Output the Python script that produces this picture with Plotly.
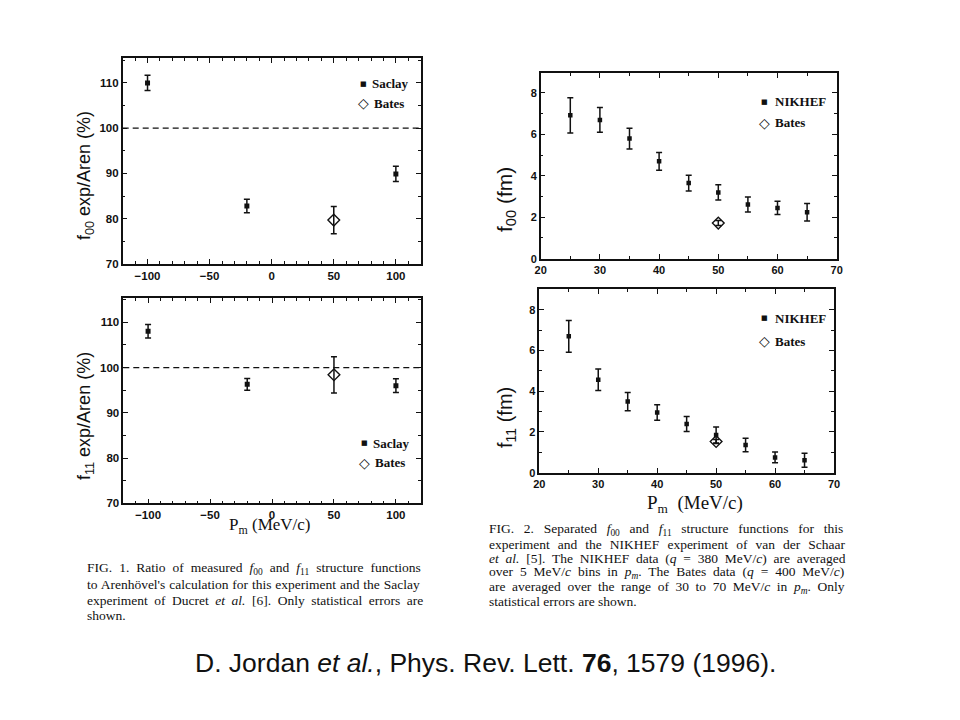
import re
import plotly.graph_objects as go

# ---------------- data ----------------
# FIG. 1 (ratio to Arenhoevel, %)
saclay_pm = [-100, -20, 100]
saclay_f00_ratio = [110.0, 82.8, 89.9]
saclay_f00_err = [1.7, 1.5, 1.7]
saclay_f11_ratio = [108.0, 96.3, 96.0]
saclay_f11_err = [1.5, 1.3, 1.5]

bates1_pm = [50]
bates_f00_ratio = [79.7]
bates_f00_ratio_err = [3.0]
bates_f11_ratio = [98.4]
bates_f11_ratio_err = [4.0]

ref_level = 100

# FIG. 2 (structure functions, fm)
nikhef_pm = [25, 30, 35, 40, 45, 50, 55, 60, 65]
nikhef_f00 = [6.92, 6.70, 5.80, 4.70, 3.65, 3.20, 2.62, 2.45, 2.24]
nikhef_f00_err = [0.85, 0.60, 0.50, 0.43, 0.38, 0.37, 0.36, 0.32, 0.42]
nikhef_f11 = [6.69, 4.56, 3.49, 2.95, 2.39, 1.85, 1.36, 0.75, 0.61]
nikhef_f11_err = [0.78, 0.53, 0.45, 0.38, 0.37, 0.39, 0.33, 0.26, 0.34]

bates2_pm = [50]
bates_f00 = [1.72]
bates_f00_err = [0.12]
bates_f11 = [1.53]
bates_f11_err = [0.10]

fig1_caption = [
    "FIG. 1. Ratio of measured <i>f</i><sub>00</sub> and <i>f</i><sub>11</sub> structure functions",
    "to Arenhövel's calculation for this experiment and the Saclay",
    "experiment of Ducret <i>et al.</i> [6]. Only statistical errors are",
    "shown.",
]
fig2_caption = [
    "FIG. 2. Separated <i>f</i><sub>00</sub> and <i>f</i><sub>11</sub> structure functions for this",
    "experiment and the NIKHEF experiment of van der Schaar",
    "<i>et al.</i> [5]. The NIKHEF data (<i>q</i> = 380 MeV/<i>c</i>) are averaged",
    "over 5 MeV/<i>c</i> bins in <i>p<sub>m</sub></i>. The Bates data (<i>q</i> = 400 MeV/<i>c</i>)",
    "are averaged over the range of 30 to 70 MeV/<i>c</i> in <i>p<sub>m</sub></i>. Only",
    "statistical errors are shown.",
]
citation = "D. Jordan <i>et al.</i>, Phys. Rev. Lett. <b>76</b>, 1579 (1996)."

# ---------------- helpers ----------------
# the page body keeps its default 8 px margin, so the figure sits at (8, 8)
OFF = 8
FW, FH = 944, 704


def px(x):
    return (x - OFF) / FW


def py(y):
    return 1 - (y - OFF) / FH


SANS = "Liberation Sans"
SERIF = "Liberation Serif"
INK = "#111111"

# Times-Roman advance widths (1/1000 em) used to justify caption lines
TW = {" ": 250, ".": 250, ",": 250, "(": 333, ")": 333, "[": 333, "]": 333,
      "/": 278, "=": 564, "'": 333, "-": 333}
TW.update({d: 500 for d in "0123456789"})
TW.update(dict(zip("ABCDEFGHIJKLMNOPQRSTUVWXYZ",
                   [722, 667, 667, 722, 611, 556, 722, 722, 333, 389, 722, 611, 889,
                    722, 722, 556, 722, 667, 556, 611, 722, 722, 944, 722, 722, 611])))
TW.update(dict(zip("abcdefghijklmnopqrstuvwxyz",
                   [444, 500, 444, 500, 444, 333, 500, 500, 278, 278, 500, 278, 778,
                    500, 500, 500, 500, 333, 389, 278, 500, 500, 722, 500, 500, 444])))
TW["ö"] = 500


def natural_width(s, size):
    total = 0.0
    scale = 1.0
    for tok in re.split(r"(<[^>]+>)", s):
        if tok.startswith("<"):
            if tok == "<sub>":
                scale = 0.7
            elif tok == "</sub>":
                scale = 1.0
            continue
        for ch in tok:
            total += TW.get(ch, 500) * scale
    return total * size / 1000.0


def justify(s, size, width):
    n = s.count(" ")
    ws = (width - natural_width(s, size)) / max(n, 1)
    return f'<span style="word-spacing:{ws:.2f}px">{s}</span>'


fig = go.Figure()


def add_series(x, y, err, xa, ya, symbol, size, lw=0):
    fig.add_trace(go.Scatter(
        x=x, y=y, mode="markers", xaxis=xa, yaxis=ya, showlegend=False,
        marker=dict(symbol=symbol, size=size, color=INK,
                    line=dict(color=INK, width=lw)),
        error_y=dict(type="data", array=err, visible=True, color=INK,
                     thickness=1.5, width=3),
        hoverinfo="x+y",
    ))


add_series(saclay_pm, saclay_f00_ratio, saclay_f00_err, "x", "y", "square", 5)
add_series(bates1_pm, bates_f00_ratio, bates_f00_ratio_err, "x", "y", "diamond-open", 9, 1.4)
add_series(saclay_pm, saclay_f11_ratio, saclay_f11_err, "x2", "y2", "square", 5)
add_series(bates1_pm, bates_f11_ratio, bates_f11_ratio_err, "x2", "y2", "diamond-open", 9, 1.4)
add_series(nikhef_pm, nikhef_f00, nikhef_f00_err, "x3", "y3", "square", 4.5)
add_series(bates2_pm, bates_f00, bates_f00_err, "x3", "y3", "diamond-open", 9, 1.4)
add_series(nikhef_pm, nikhef_f11, nikhef_f11_err, "x4", "y4", "square", 4.5)
add_series(bates2_pm, bates_f11, bates_f11_err, "x4", "y4", "diamond-open", 9, 1.4)


def axis(domain, rng, dtick, minor_dtick, anchor, fsize):
    return dict(
        domain=domain, range=rng, dtick=dtick, tick0=0, anchor=anchor,
        automargin=False,
        showgrid=False, zeroline=False, showline=True, linecolor=INK,
        linewidth=1.5, mirror="allticks", ticks="inside", ticklen=5,
        tickwidth=1.2, tickcolor=INK,
        tickfont=dict(family=SANS, size=fsize, color=INK, weight="bold"),
        minor=dict(ticks="inside", ticklen=3, tickwidth=1, tickcolor=INK,
                   dtick=minor_dtick, showgrid=False),
        fixedrange=True,
    )


layout = dict(
    width=FW, height=FH, margin=dict(l=0, r=0, t=0, b=0, autoexpand=False),
    paper_bgcolor="white", plot_bgcolor="white", showlegend=False,
    xaxis=axis([px(122.7), px(420.7)], [-120, 120], 50, 10, "y", 11.5),
    yaxis=axis([py(264), py(58)], [70, 115.5], 10, 5, "x", 11.5),
    xaxis2=axis([px(123.3), px(420.7)], [-120, 120], 50, 10, "y2", 11.5),
    yaxis2=axis([py(503.3), py(298.3)], [70, 115.3], 10, 5, "x2", 11.5),
    xaxis3=axis([px(540.7), px(836.7)], [20, 70], 10, 5, "y3", 11),
    yaxis3=axis([py(258.7), py(73.3)], [0, 8.95], 2, 1, "x3", 11),
    xaxis4=axis([px(539.3), px(834)], [20, 70], 10, 5, "y4", 11),
    yaxis4=axis([py(472.7), py(289.3)], [0, 9.0], 2, 1, "x4", 11),
)
fig.update_layout(**layout)

for xr, yr in (("x", "y"), ("x2", "y2")):
    fig.add_shape(type="line", xref=f"{xr} domain", yref=yr, x0=0, x1=1,
                  y0=ref_level, y1=ref_level,
                  line=dict(color=INK, width=1.2, dash="6px,4px"))

ann = []


def text(x, y, t, size, family=SANS, xanchor="center", angle=0, weight="normal"):
    ann.append(dict(x=px(x), y=py(y), xref="paper", yref="paper", text=t,
                    showarrow=False, xanchor=xanchor, yanchor="middle",
                    textangle=angle,
                    font=dict(family=family, size=size, color=INK, weight=weight)))


# axis titles
text(85, 176, "f<sub>00</sub> exp/Aren (%)", 18, angle=-90)
text(85, 416, "f<sub>11</sub> exp/Aren (%)", 18, angle=-90)
text(506, 200, "f<sub>00</sub> (fm)", 21, angle=-90)
text(506, 418, "f<sub>11</sub> (fm)", 20, angle=-90)
text(270, 526, "P<sub>m</sub> (MeV/c)", 17, family=SERIF)
text(695, 504, "P<sub>m</sub>  (MeV/c)", 19, family=SERIF)

# in-plot keys
keys = [
    (363.3, 84, "Saclay", 103, "Bates", 369.5, 371.5),
    (364.0, 443, "Saclay", 462.7, "Bates", 371, 372.5),
    (764.3, 101.7, "NIKHEF", 122.7, "Bates", 773, 773),
    (764.0, 318, "NIKHEF", 341, "Bates", 773, 773),
]
for kx, ky1, lab1, ky2, lab2, tx1, tx2 in keys:
    text(kx, ky1, "■", 7, family="DejaVu Sans")
    text(kx, ky2, "◇", 14, family="DejaVu Sans")
    text(tx1, ky1, lab1, 13, family=SERIF, xanchor="left", weight="bold")
    text(tx2, ky2, lab2, 13, family=SERIF, xanchor="left", weight="bold")

# captions (justified like the printed page)
CAP = 13.5
for i, (t, y) in enumerate(zip(fig1_caption, [568.7, 584.3, 600, 615.5])):
    s = justify(t, CAP, 335.5) if i < len(fig1_caption) - 1 else t
    text(85, y, s, CAP, family=SERIF, xanchor="left")
for i, (t, y) in enumerate(zip(fig2_caption, [529.7, 544, 558.3, 572.7, 587, 601])):
    s = justify(t, CAP, 356) if i < len(fig2_caption) - 1 else t
    text(487, y, s, CAP, family=SERIF, xanchor="left")

text(485.5, 663, citation, 26.5, family=SANS)

fig.update_layout(annotations=ann)
fig.write_html("out.html")
